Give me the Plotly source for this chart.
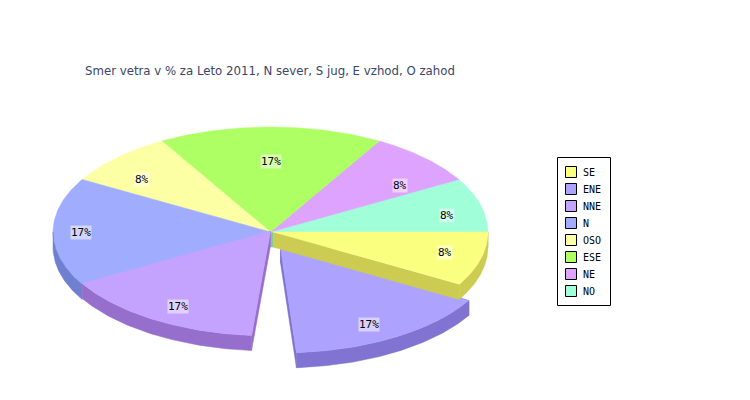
import numpy as np
import plotly.graph_objects as go

# Data (legend order)
LABELS = ["SE", "ENE", "NNE", "N", "OSO", "ESE", "NE", "NO"]
VALUES = [1, 2, 2, 2, 1, 2, 1, 1]
TITLE = "Smer vetra v % za Leto 2011, N sever, S jug, E vzhod, O zahod"

# Styles
TOP = ["#FAFF80", "#ADA3FF", "#C4A3FF", "#A0ADFF", "#FCFFA3", "#ADFF63", "#DDA3FF", "#A0FFD8"]
SIDE = ["#CCCC52", "#8073D1", "#966ECC", "#7080D1", "#CCCC80", "#85CC4D", "#B080CC", "#6ECDAA"]

# Geometry (pixels)
CX, CY, RX, RY, DEPTH = 270.5, 232.0, 217.5, 105.0, 15.0
# per-slice: centre shift, arc trim and horizontal radius (the exploded slices)
SHIFT = {"SE": (2.5, 0), "ENE": (10, 16), "NNE": (0, -1)}
TRIM = {"NNE": (0, 5), "ENE": (4.2, 0)}
SLICE_RX = {"SE": 215.0}
LABEL_F = {"NO": (.84, .625), "NE": (.84, .62), "ESE": (.85, .676), "OSO": (.834, .71),
           "N": (.87, 0), "NNE": (.85, .825), "ENE": (.81, .836), "SE": (.83, .74)}
W, H = 750, 400

# Slices run counter-clockwise from 0 degrees in reverse legend order
total = sum(VALUES)
slices = {}
angle = 0.0
for i in range(len(LABELS) - 1, -1, -1):
    name = LABELS[i]
    span = 360.0 * VALUES[i] / total
    t0, t1 = TRIM.get(name, (0, 0))
    dx, dy = SHIFT.get(name, (0, 0))
    slices[name] = dict(a0=angle + t0, a1=angle + span - t1, mid=angle + span / 2,
                        cx=CX + dx, cy=CY + dy, rx=SLICE_RX.get(name, RX), top=TOP[i], side=SIDE[i],
                        pct=100.0 * VALUES[i] / total)
    angle += span


def pt(s, deg):
    r = np.radians(deg)
    return s["cx"] + s["rx"] * np.cos(r), s["cy"] - RY * np.sin(r)


def arc(s, a0, a1, n=90):
    r = np.radians(np.linspace(a0, a1, n))
    return s["cx"] + s["rx"] * np.cos(r), s["cy"] - RY * np.sin(r)


fig = go.Figure()


def poly(x, y, color, name):
    fig.add_trace(go.Scatter(x=list(x) + [x[0]], y=list(y) + [y[0]], mode="lines", fill="toself",
                             fillcolor=color, line=dict(color=color, width=0.5),
                             hoverinfo="skip", showlegend=False, name=name))


def top(name):
    s = slices[name]
    x, y = arc(s, s["a0"], s["a1"])
    poly([s["cx"], *x], [s["cy"], *y], s["top"], name)


def arc_wall(name, a0, a1):
    s = slices[name]
    x, y = arc(s, a0, a1)
    poly([*x, *x[::-1]], [*y, *(y[::-1] + DEPTH)], s["side"], name + " side")


def radial_wall(name, deg):
    s = slices[name]
    x, y = pt(s, deg)
    poly([s["cx"], x, x, s["cx"]], [s["cy"], y, y + DEPTH, s["cy"] + DEPTH], s["side"], name + " wall")


# Back to front
radial_wall("NO", 0)
for n in ["NO", "NE", "ESE", "OSO", "N"]:
    top(n)
arc_wall("N", 180, slices["N"]["a1"])
radial_wall("NNE", slices["NNE"]["a1"])
arc_wall("NNE", slices["NNE"]["a0"], slices["NNE"]["a1"])
top("NNE")
radial_wall("ENE", slices["ENE"]["a0"])
arc_wall("ENE", slices["ENE"]["a0"], slices["ENE"]["a1"])
radial_wall("ENE", slices["ENE"]["a1"])
top("ENE")
radial_wall("SE", slices["SE"]["a0"])
arc_wall("SE", slices["SE"]["a0"], slices["SE"]["a1"])
top("SE")

# Percent labels
for name, s in slices.items():
    fx, fy = LABEL_F[name]
    r = np.radians(s["mid"])
    fig.add_annotation(x=s["cx"] + s["rx"] * fx * np.cos(r), y=s["cy"] - RY * fy * np.sin(r),
                       text=f"{s['pct']:.0f}%", showarrow=False, xanchor="center", yanchor="middle",
                       bgcolor="rgba(255,255,255,0.5)", borderpad=0,
                       font=dict(family="DejaVu Sans Mono", size=11, color="black"))

# Legend box, swatches and names
LEG_X0, LEG_Y0, LEG_X1, LEG_Y1 = 557.5, 157.5, 610.5, 305.5
LEG_STEP, LEG_FIRST, SW_X, TXT_X = 17.0, 172.0, 571.0, 582.0
fig.add_shape(type="rect", x0=LEG_X0, y0=LEG_Y0, x1=LEG_X1, y1=LEG_Y1, layer="below",
              line=dict(color="black", width=1), fillcolor="white")
ly = [LEG_FIRST + LEG_STEP * i for i in range(len(LABELS))]
fig.add_trace(go.Scatter(x=[SW_X] * len(LABELS), y=ly, mode="markers",
                         marker=dict(symbol="square", size=11, color=TOP, line=dict(color="black", width=1)),
                         hoverinfo="skip", showlegend=False, name="legend"))
for lab, y in zip(LABELS, ly):
    fig.add_annotation(x=TXT_X, y=y, text=lab, showarrow=False, xanchor="left", yanchor="middle",
                       font=dict(family="DejaVu Sans Mono", size=10, color="black"), borderpad=0)

fig.add_annotation(x=83, y=71, text=TITLE, showarrow=False, xanchor="left", yanchor="middle",
                   font=dict(family="DejaVu Sans", size=11.75, color="#3B4668"))

fig.update_layout(width=W, height=H, margin=dict(l=0, r=0, t=0, b=0),
                  paper_bgcolor="white", plot_bgcolor="white", showlegend=False,
                  xaxis=dict(range=[0, W], visible=False, fixedrange=True),
                  yaxis=dict(range=[H, 0], visible=False, fixedrange=True))
fig.write_html("out.html", post_script="document.body.style.margin='0';", config={"displayModeBar": False})
